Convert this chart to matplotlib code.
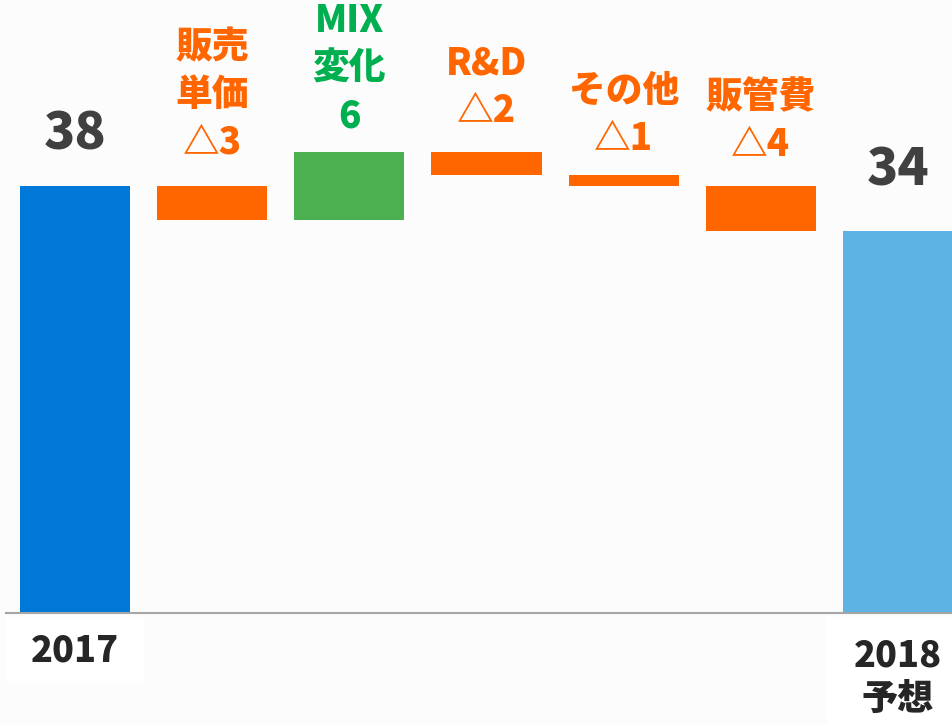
import matplotlib
matplotlib.use('Agg')
import matplotlib.pyplot as plt
import matplotlib.transforms as mtransforms
from matplotlib.patches import Rectangle

plt.rcParams['font.family'] = ['Noto Sans CJK JP', 'DejaVu Sans']
plt.rcParams['font.weight'] = 'heavy'

# データ
start_label = '2017'
start_value = 38
steps = ['販売\n単価', 'MIX\n変化', 'R&D', 'その他', '販管費']
changes = [-3, 6, -2, -1, -4]
end_label = '2018\n予想'
end_value = 34

BLUE = '#0078d7'
LIGHT_BLUE = '#5db3e3'
ORANGE = '#ff6600'
GREEN_BAR = '#4caf50'
GREEN_TXT = '#00b050'
DARK = '#404040'
BG = '#fcfcfc'

fig = plt.figure(figsize=(9.52, 7.24), dpi=100, facecolor=BG)
ax = fig.add_axes([6 / 952, 111 / 724, 946 / 952, 613 / 724])
ax.set_facecolor(BG)

n = len(steps) + 2
xs = list(range(n))
w = 0.803

# 積み上げの計算
bottoms, heights, colors = [], [], []
level = start_value
for c in changes:
    if c < 0:
        bottoms.append(level + c)
        heights.append(-c)
        colors.append(ORANGE)
    else:
        bottoms.append(level)
        heights.append(c)
        colors.append(GREEN_BAR)
    level += c

ax.bar(xs[0], start_value, width=w, color=BLUE)
ax.bar(xs[1:-1], heights, bottom=bottoms, width=w, color=colors)
ax.bar(xs[-1], end_value, width=w, color=LIGHT_BLUE)

ax.set_xlim(-0.504, 6.394)
ax.set_ylim(0, 54.54)
for s in ['top', 'right', 'left']:
    ax.spines[s].set_visible(False)
ax.spines['bottom'].set_color('#a6a6a6')
ax.spines['bottom'].set_linewidth(1.5)
ax.set_xticks([])
ax.set_yticks([])

# ラベル
offs = [25, 24, 17, 22, 17, 22, 34]
ax.annotate(str(start_value), (xs[0], start_value), xytext=(0, offs[0]),
            textcoords='offset pixels', ha='center', va='bottom',
            fontsize=37, color=DARK, annotation_clip=False)
ax.annotate(str(end_value), (xs[-1], end_value), xytext=(0, offs[-1]),
            textcoords='offset pixels', ha='center', va='bottom',
            fontsize=37, color=DARK, annotation_clip=False)
for i, (name, c) in enumerate(zip(steps, changes)):
    top = bottoms[i] + heights[i]
    txt = f"{name}\n{'△' if c < 0 else ''}{abs(c)}"
    ax.annotate(txt, (xs[i + 1], top), xytext=(0, offs[i + 1]),
                textcoords='offset pixels', ha='center', va='bottom',
                fontsize=26.5, color=ORANGE if c < 0 else GREEN_TXT,
                linespacing=1.32, annotation_clip=False)

# 軸ラベル（白い背景）
tr = mtransforms.blended_transform_factory(ax.transData, fig.transFigure)
fig.patches.append(Rectangle((xs[0] - 0.5, 41 / 724), 1.0, 66 / 724,
                             transform=tr, facecolor='white', edgecolor='none', zorder=0))
fig.patches.append(Rectangle((xs[-1] - 0.52, 0), 1.2, 107 / 724,
                             transform=tr, facecolor='white', edgecolor='none', zorder=0))
fig.text(xs[0], 73 / 724, start_label, transform=tr, ha='center', va='center',
         fontsize=26, color='#262626')
fig.text(xs[-1], 47 / 724, end_label, transform=tr, ha='center', va='center',
         fontsize=26, color='#262626', linespacing=1.25)

fig.savefig('out.png', dpi=100, facecolor=BG)
